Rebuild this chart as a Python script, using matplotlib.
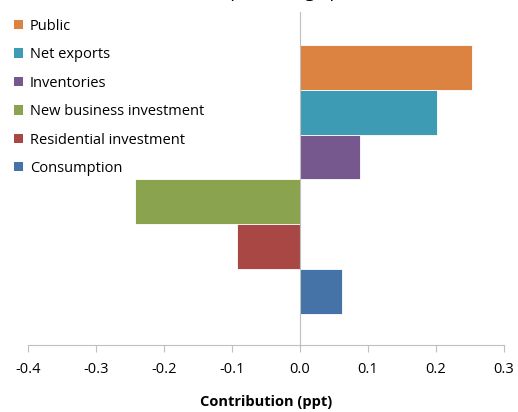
import matplotlib.pyplot as plt
from matplotlib.patches import Patch

plt.rcParams['font.family'] = ['Open Sans', 'DejaVu Sans']

# data, top to bottom as in the chart
categories = ["Public", "Net exports", "Inventories",
              "New business investment", "Residential investment", "Consumption"]
values = [0.253, 0.201, 0.088, -0.243, -0.093, 0.062]
colors = ["#DD8341", "#3E9BB4", "#76588F", "#8AA34E", "#A84744", "#4572A7"]
xticks = [-0.4, -0.3, -0.2, -0.1, 0.0, 0.1, 0.2, 0.3]

fig = plt.figure(figsize=(5.18, 4.12), dpi=100)
ax = fig.add_axes([28 / 518, 67 / 412, 476 / 518, 333 / 412])

n = len(categories)
pos = [n - 1 - i for i in range(n)]
ax.barh(pos, values, height=1.0, color=colors, edgecolor="white", linewidth=0.6, zorder=2)

ax.set_xlim(-0.4, 0.3)
ax.set_ylim(-1.19, n - 0.5 + 0.73)
ax.set_xticks(xticks)
ax.set_xticklabels(["%.1f" % t for t in xticks], fontsize=10.5)
ax.set_yticks([])
ax.tick_params(axis="x", direction="out", length=5, color="#BFBFBF", pad=7)

ax.spines["top"].set_visible(False)
ax.spines["right"].set_visible(False)
ax.spines["left"].set_position(("data", 0))
ax.spines["left"].set_color("#BFBFBF")
ax.spines["bottom"].set_color("#BFBFBF")
ax.spines["left"].set_zorder(3)

ax.set_xlabel("Contribution (ppt)", fontsize=10.5, fontweight="bold", labelpad=13)

handles = [Patch(facecolor=c, edgecolor="none") for c in colors]
ax.legend(handles, categories, loc="upper left", bbox_to_anchor=(8 / 518, 1 - 13 / 412),
          bbox_transform=fig.transFigure, frameon=False, fontsize=10.5,
          handlelength=0.6, handleheight=0.6, handletextpad=0.5, labelspacing=0.92,
          borderaxespad=0)

# title sits mostly above the visible area, as in the source crop
fig.text(306 / 518, 1 + 3 / 412, "(percentage points)", ha="center", va="baseline", fontsize=13)

fig.savefig("out.png", dpi=100)
